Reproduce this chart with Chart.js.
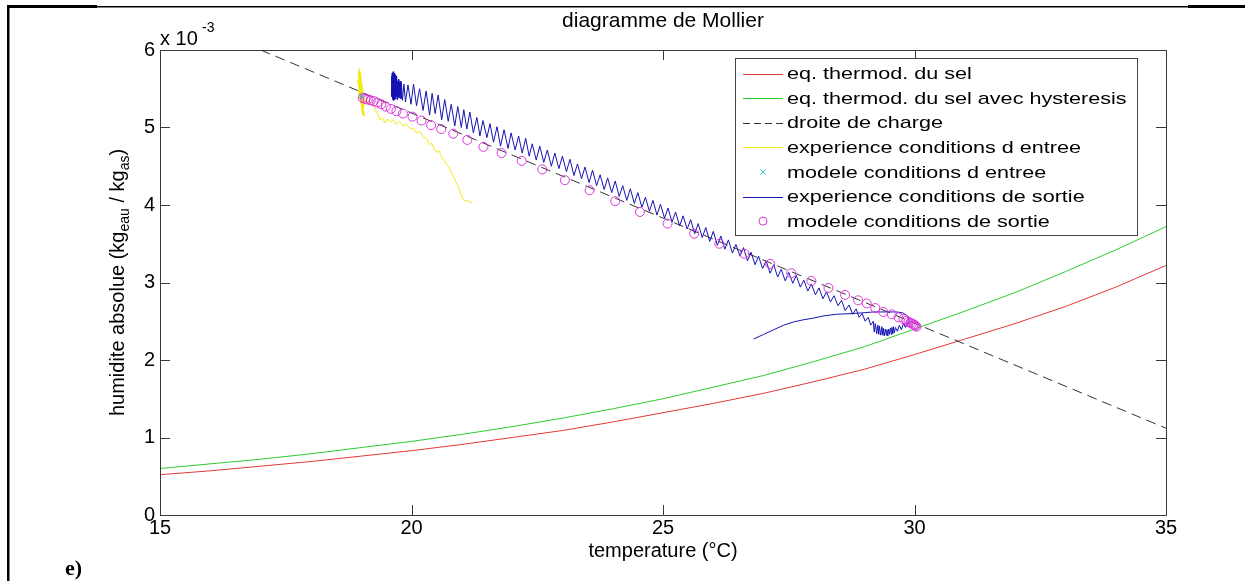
<!DOCTYPE html>
<html>
<head>
<meta charset="utf-8">
<script src="https://cdn.jsdelivr.net/npm/chart.js@4.4.0/dist/chart.umd.min.js"></script>
<style>
body { margin: 0; background: #fff; }
#wrap { width: 1245px; height: 581px; }
</style>
</head>
<body>
<div id="wrap"><canvas id="mollierChart" width="1245" height="581"></canvas></div>
<script>
// temperature grid for the salt equilibrium curves
const tempSel = [15, 16, 17, 18, 19, 20, 21, 22, 23, 24, 25, 26, 27, 28, 29, 30, 31, 32, 33, 34, 35]
const eqSel = [0.52, 0.57, 0.63, 0.69, 0.76, 0.83, 0.91, 1.00, 1.09, 1.20, 1.32, 1.44, 1.57, 1.72, 1.88, 2.07, 2.27, 2.47, 2.69, 2.94, 3.22]
const eqSelHyst = [0.60, 0.66, 0.72, 0.79, 0.87, 0.95, 1.04, 1.14, 1.25, 1.37, 1.50, 1.65, 1.80, 1.98, 2.17, 2.40, 2.63, 2.87, 3.14, 3.42, 3.72]

// droite de charge
const chargeT = [17, 35]
const chargeW = [6.0, 1.12]

// experience conditions d entree
const entreeExpT = [19.0, 18.94, 19.05, 18.96, 19.06, 18.93, 19.04, 18.97, 19.07, 18.95, 19.03, 18.98, 19.06, 18.94, 19.02, 19.0,
  19.1, 19.16, 19.22, 19.28, 19.33, 19.37, 19.42, 19.47, 19.52, 19.58, 19.63, 19.7, 19.76, 19.83, 19.9, 19.97, 20.05, 20.1, 20.17, 20.24,
  20.3, 20.36, 20.4, 20.45, 20.5, 20.55, 20.6, 20.65, 20.7, 20.75, 20.8, 20.84, 20.88, 20.91, 20.95, 20.98, 21.02, 21.06, 21.12, 21.2]
const entreeExpW = [5.45, 5.72, 5.18, 5.76, 5.14, 5.62, 5.22, 5.68, 5.28, 5.55, 5.16, 5.72, 5.35, 5.48, 5.25, 5.40,
  5.36, 5.30, 5.33, 5.22, 5.18, 5.10, 5.13, 5.06, 5.11, 5.07, 5.10, 5.04, 5.08, 5.02, 5.04, 4.99, 4.98, 4.93, 4.95, 4.88,
  4.86, 4.78, 4.80, 4.72, 4.68, 4.70, 4.61, 4.58, 4.52, 4.48, 4.42, 4.36, 4.30, 4.26, 4.20, 4.14, 4.08, 4.06, 4.05, 4.03]

// modele conditions d entree
const entreeModT = [19.0, 19.01, 19.02]
const entreeModW = [5.40, 5.41, 5.39]

// experience conditions de sortie: dense start, sawtooth descent, end cluster and transient
const sortieBlocT = [19.60, 19.605, 19.61, 19.615, 19.62, 19.625, 19.63, 19.635, 19.64, 19.645, 19.65, 19.655, 19.66, 19.665, 19.67, 19.675, 19.68, 19.685,
  19.69, 19.695, 19.70, 19.71, 19.715, 19.72, 19.73, 19.74, 19.75, 19.76, 19.77, 19.78, 19.79, 19.80, 19.82, 19.85, 19.88]
const sortieBlocW = [5.50, 5.66, 5.40, 5.70, 5.36, 5.68, 5.42, 5.72, 5.38, 5.66, 5.35, 5.70, 5.40, 5.64, 5.36, 5.68, 5.42, 5.62,
  5.37, 5.66, 5.40, 5.62, 5.36, 5.60, 5.40, 5.62, 5.38, 5.58, 5.41, 5.60, 5.37, 5.57, 5.35, 5.56, 5.33]
const sortieZigT = [19.93, 19.99, 20.04, 20.10, 20.16, 20.23, 20.29, 20.36, 20.41, 20.47, 20.53, 20.60, 20.66, 20.73, 20.79, 20.86, 20.92, 20.99,
  21.04, 21.10, 21.16, 21.23, 21.30, 21.36, 21.42, 21.50, 21.56, 21.63, 21.70, 21.77, 21.84, 21.92, 21.98,
  22.06, 22.13, 22.20, 22.27, 22.34, 22.40, 22.48, 22.55, 22.63, 22.70, 22.78, 22.85, 22.93,
  23.00, 23.08, 23.15, 23.23, 23.30, 23.38, 23.45, 23.53, 23.60, 23.68, 23.75, 23.83, 23.90, 23.98,
  24.05, 24.13, 24.20, 24.28, 24.35, 24.43, 24.50, 24.58, 24.65, 24.73, 24.80, 24.88, 24.95,
  25.03, 25.10, 25.18, 25.25, 25.33, 25.40, 25.48, 25.55, 25.63, 25.70, 25.78, 25.85, 25.93,
  26.00, 26.08, 26.15, 26.23, 26.30, 26.38, 26.45, 26.53, 26.60, 26.68, 26.75, 26.83, 26.90, 26.98,
  27.05, 27.13, 27.20, 27.28, 27.35, 27.43, 27.50, 27.58, 27.65, 27.73, 27.80, 27.88, 27.95,
  28.03, 28.10, 28.18, 28.25, 28.33, 28.40, 28.48, 28.55, 28.62, 28.70, 28.77, 28.84, 28.90, 28.96,
  29.02, 29.08, 29.13]
const sortieZigW = [5.55, 5.30, 5.56, 5.28, 5.50, 5.22, 5.47, 5.16, 5.44, 5.18, 5.42, 5.10, 5.36, 5.08, 5.30, 5.02, 5.27, 5.00,
  5.23, 4.98, 5.20, 4.93, 5.13, 4.89, 5.09, 4.87, 5.05, 4.81, 5.01, 4.76, 4.97, 4.73, 4.93,
  4.71, 4.89, 4.67, 4.86, 4.63, 4.79, 4.58, 4.76, 4.55, 4.71, 4.50, 4.67, 4.47,
  4.63, 4.43, 4.59, 4.38, 4.53, 4.34, 4.49, 4.29, 4.45, 4.25, 4.39, 4.20, 4.35, 4.16,
  4.31, 4.11, 4.25, 4.06, 4.21, 4.02, 4.16, 3.97, 4.10, 3.92, 4.06, 3.87, 4.01,
  3.83, 3.96, 3.78, 3.91, 3.73, 3.86, 3.69, 3.81, 3.63, 3.76, 3.58, 3.71, 3.53,
  3.66, 3.48, 3.60, 3.43, 3.55, 3.38, 3.49, 3.34, 3.45, 3.28, 3.39, 3.23, 3.34, 3.18,
  3.28, 3.12, 3.23, 3.07, 3.17, 3.02, 3.13, 2.99, 3.09, 2.94, 3.03, 2.89, 2.98,
  2.84, 2.93, 2.79, 2.88, 2.75, 2.83, 2.70, 2.77, 2.64, 2.71, 2.59, 2.66, 2.55, 2.60,
  2.50, 2.55, 2.45]
const sortieFinT = [29.18, 29.20, 29.22, 29.25, 29.27, 29.29, 29.30, 29.33, 29.35, 29.37, 29.38, 29.40, 29.42, 29.44, 29.45, 29.47,
  29.48, 29.50, 29.52, 29.54, 29.55, 29.57, 29.58, 29.60, 29.62, 29.66, 29.70, 29.74, 29.78, 29.82, 29.86, 29.90,
  29.88, 29.84, 29.76, 29.64, 29.40, 29.18, 29.00, 28.78, 28.45, 28.20, 27.99, 27.80, 27.59, 27.40, 27.20, 27.00, 26.80]
const sortieFinW = [2.50, 2.36, 2.47, 2.34, 2.45, 2.33, 2.44, 2.32, 2.43, 2.32, 2.41, 2.31, 2.40, 2.32, 2.39, 2.31,
  2.40, 2.33, 2.41, 2.33, 2.42, 2.34, 2.43, 2.35, 2.42, 2.37, 2.45, 2.39, 2.47, 2.42, 2.49, 2.46,
  2.55, 2.58, 2.61, 2.62, 2.62, 2.62, 2.61, 2.60, 2.59, 2.57, 2.54, 2.52, 2.49, 2.45, 2.39, 2.33, 2.27]
const sortieExpT = [...sortieBlocT, ...sortieZigT, ...sortieFinT]
const sortieExpW = [...sortieBlocW, ...sortieZigW, ...sortieFinW]

// modele conditions de sortie
const sortieModT = [19.03, 19.08, 19.13, 19.19, 19.25, 19.32, 19.40, 19.49, 19.59, 19.70, 19.83, 20.02, 20.2, 20.39, 20.59, 20.83, 21.11, 21.43, 21.79, 22.19,
  22.6, 23.05, 23.54, 24.05, 24.54, 25.09, 25.62, 26.12, 26.62, 27.13, 27.55, 27.95, 28.29, 28.62, 28.88, 29.05, 29.22, 29.38, 29.55, 29.68,
  29.78, 29.84, 29.88, 29.92, 29.95, 29.98, 30.0, 30.02, 30.04]
const sortieModW = [5.38, 5.37, 5.36, 5.35, 5.34, 5.32, 5.30, 5.27, 5.24, 5.21, 5.18, 5.14, 5.09, 5.03, 4.98, 4.92, 4.84, 4.75, 4.67, 4.57,
  4.46, 4.32, 4.19, 4.05, 3.91, 3.76, 3.63, 3.50, 3.37, 3.24, 3.12, 3.02, 2.93, 2.84, 2.77, 2.73, 2.67, 2.62, 2.59, 2.55,
  2.53, 2.51, 2.49, 2.48, 2.47, 2.46, 2.45, 2.44, 2.43]

const xTicks = [15, 20, 25, 30, 35]
const yTicks = [0, 1, 2, 3, 4, 5, 6]

const pts = (xs, ys) => xs.map((x, i) => ({ x: x, y: ys[i] }))

const lineSet = (label, xs, ys, color, order, dash) => ({
    label: label,
    data: pts(xs, ys),
    showLine: true,
    borderColor: color,
    backgroundColor: color,
    borderWidth: 1,
    borderDash: dash || [],
    pointRadius: 0,
    tension: 0,
    order: order,
})

const boxAndText = {
    id: 'boxAndText',
    afterDatasetsDraw(chart) {
        const { ctx, chartArea: { left, top, right, bottom } } = chart
        const xs = chart.scales.x, ys = chart.scales.y
        ctx.save()
        // axes box and inward ticks
        ctx.strokeStyle = '#3a3a3a'
        ctx.lineWidth = 1
        ctx.beginPath()
        ctx.rect(left + 0.5, top + 0.5, right - left, bottom - top)
        xTicks.forEach(v => {
            const p = Math.round(xs.getPixelForValue(v)) + 0.5
            ctx.moveTo(p, bottom); ctx.lineTo(p, bottom - 10)
            ctx.moveTo(p, top); ctx.lineTo(p, top + 10)
        })
        yTicks.forEach(v => {
            const p = Math.round(ys.getPixelForValue(v)) + 0.5
            ctx.moveTo(left, p); ctx.lineTo(left + 10, p)
            ctx.moveTo(right, p); ctx.lineTo(right - 10, p)
        })
        ctx.stroke()

        // legend
        const lx = 735, ly = 58, lw = 402, lh = 177
        ctx.fillStyle = '#fff'
        ctx.fillRect(lx, ly, lw, lh)
        ctx.strokeStyle = '#444'
        ctx.strokeRect(lx + 0.5, ly + 0.5, lw, lh)
        const sets = chart.data.datasets.slice().sort((a, b) => b.order - a.order)
        sets.forEach((ds, i) => {
            const cy = 73.5 + i * 24.6
            ctx.strokeStyle = ds.borderColor
            ctx.lineWidth = 1
            if (ds.showLine) {
                ctx.setLineDash(ds.borderDash.length ? [7, 4] : [])
                ctx.beginPath()
                ctx.moveTo(743, Math.round(cy) + 0.5)
                ctx.lineTo(783, Math.round(cy) + 0.5)
                ctx.stroke()
                ctx.setLineDash([])
            } else if (ds.pointStyle === 'crossRot') {
                ctx.beginPath()
                ctx.moveTo(760, cy - 3); ctx.lineTo(766, cy + 3)
                ctx.moveTo(766, cy - 3); ctx.lineTo(760, cy + 3)
                ctx.stroke()
            } else {
                ctx.beginPath()
                ctx.arc(763, cy, 4, 0, Math.PI * 2)
                ctx.stroke()
            }
            ctx.save()
            ctx.translate(787, cy)
            ctx.scale(1.27, 1)
            ctx.fillStyle = '#000'
            ctx.font = '17px "Liberation Sans", Arial, sans-serif'
            ctx.textBaseline = 'middle'
            ctx.fillText(ds.label, 0, 1)
            ctx.restore()
        })

        // title, axis labels, exponent
        ctx.fillStyle = '#000'
        ctx.font = '21px "Liberation Sans", Arial, sans-serif'
        ctx.textAlign = 'center'
        ctx.textBaseline = 'middle'
        ctx.fillText('diagramme de Mollier', (left + right) / 2, 21)
        ctx.font = '20px "Liberation Sans", Arial, sans-serif'
        ctx.fillText('temperature (°C)', (left + right) / 2, 551)

        ctx.textAlign = 'left'
        ctx.textBaseline = 'alphabetic'
        ctx.fillText('x 10', 160, 45)
        ctx.font = '14px "Liberation Sans", Arial, sans-serif'
        ctx.fillText('-3', 202, 32)

        // y label with subscripts, rotated
        const parts = [['humidite absolue (kg', 20, 0], ['eau', 14, 5], [' / kg', 20, 0], ['as', 14, 5], [')', 20, 0]]
        let total = 0
        parts.forEach(p => { ctx.font = p[1] + 'px "Liberation Sans", Arial, sans-serif'; total += ctx.measureText(p[0]).width })
        ctx.save()
        ctx.translate(124, (top + bottom) / 2)
        ctx.rotate(-Math.PI / 2)
        let cx = -total / 2
        parts.forEach(p => {
            ctx.font = p[1] + 'px "Liberation Sans", Arial, sans-serif'
            ctx.fillText(p[0], cx, p[2])
            cx += ctx.measureText(p[0]).width
        })
        ctx.restore()

        // panel letter and page frame
        ctx.font = 'bold 22px "Liberation Serif", "Times New Roman", serif'
        ctx.fillText('e)', 65, 575)
        ctx.fillStyle = '#000'
        ctx.fillRect(7, 5, 90, 3)
        ctx.fillRect(97, 6, 1091, 1.5)
        ctx.fillRect(1188, 5, 57, 3)
        ctx.fillRect(7, 5, 2.5, 576)
        ctx.restore()
    }
}

const mollier = new Chart(document.getElementById('mollierChart'), {
    type: 'scatter',
    data: {
        datasets: [
            lineSet('eq. thermod. du sel', tempSel, eqSel, '#e03a3a', 7),
            lineSet('eq. thermod. du sel avec hysteresis', tempSel, eqSelHyst, '#2ecc2e', 6),
            lineSet('droite de charge', chargeT, chargeW, '#333333', 5, [10, 6]),
            lineSet('experience conditions d entree', entreeExpT, entreeExpW, '#f0ea10', 4),
            {
                label: 'modele conditions d entree',
                data: pts(entreeModT, entreeModW),
                showLine: false,
                pointStyle: 'crossRot',
                pointRadius: 3,
                borderColor: '#40c8c8',
                borderWidth: 1,
                order: 3,
            },
            lineSet('experience conditions de sortie', sortieExpT, sortieExpW, '#1414b4', 2),
            {
                label: 'modele conditions de sortie',
                data: pts(sortieModT, sortieModW),
                showLine: false,
                pointStyle: 'circle',
                pointRadius: 4.5,
                borderColor: '#dd33dd',
                backgroundColor: 'rgba(0,0,0,0)',
                borderWidth: 1,
                order: 1,
            },
        ]
    },
    options: {
        responsive: false,
        animation: false,
        devicePixelRatio: 1,
        layout: {
            padding: { left: 0, top: 50, right: 79, bottom: 0 }
        },
        plugins: {
            legend: { display: false },
            tooltip: { enabled: false },
        },
        scales: {
            x: {
                type: 'linear',
                min: 15,
                max: 35,
                afterBuildTicks(scale) { scale.ticks = xTicks.map(v => ({ value: v })) },
                afterFit(scale) { scale.height = 66 },
                grid: { display: false, drawTicks: false },
                border: { display: false },
                ticks: {
                    color: '#000',
                    padding: 1,
                    maxRotation: 0,
                    font: { family: '"Liberation Sans", Arial, sans-serif', size: 20 },
                },
            },
            y: {
                type: 'linear',
                min: 0,
                max: 6,
                afterBuildTicks(scale) { scale.ticks = yTicks.map(v => ({ value: v })) },
                afterFit(scale) { scale.width = 160 },
                grid: { display: false, drawTicks: false },
                border: { display: false },
                ticks: {
                    color: '#000',
                    padding: 5,
                    font: { family: '"Liberation Sans", Arial, sans-serif', size: 20 },
                },
            },
        },
    },
    plugins: [boxAndText],
})
</script>
</body>
</html>
